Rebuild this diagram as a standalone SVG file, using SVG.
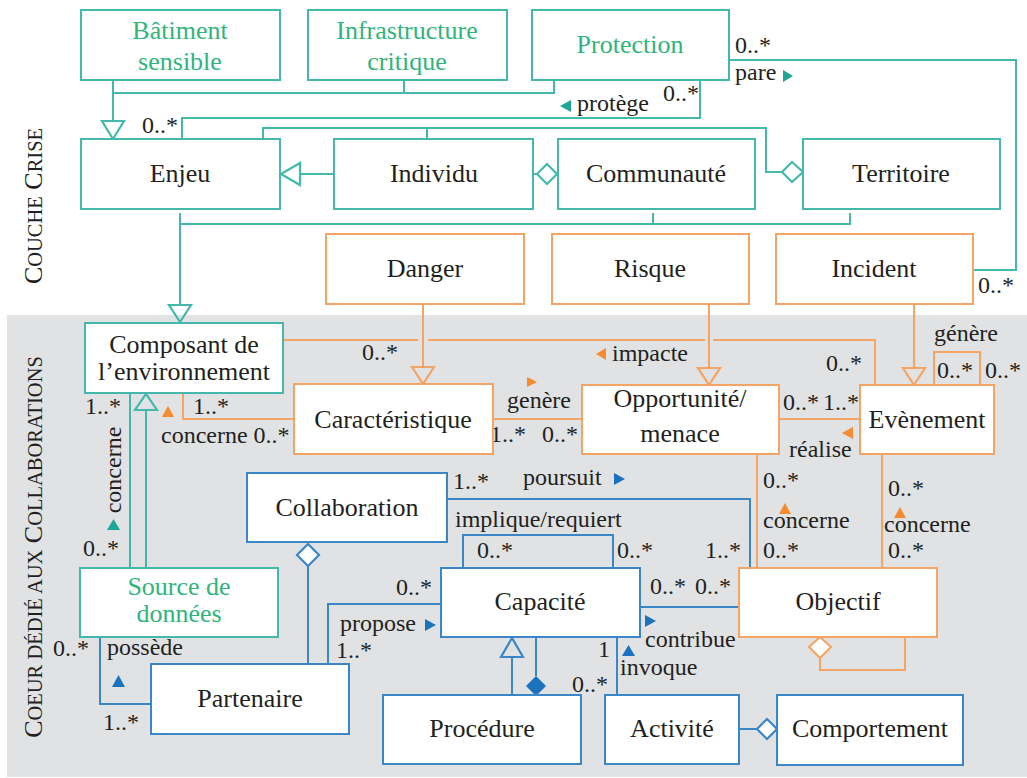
<svg xmlns="http://www.w3.org/2000/svg" width="1027" height="778" viewBox="0 0 1027 778">
<style>
.bg{fill:#e1e2e4}
.box{fill:#fff;stroke-width:2}
.tl{stroke:#45b8ac}
.or{stroke:#f4a565}
.bl{stroke:#3a86c6}
.ln{fill:none;stroke-width:2}
.hol{fill:#fff;stroke-width:2.2}
.hol2{fill:none;stroke-width:2.2}
.ft{fill:#1fa595}
.fo{fill:#f58a30}
.fb{fill:#1a73bc}
text{font-family:"Liberation Serif","Times New Roman",serif;fill:#231f20}
.nt{font-size:26px;text-anchor:middle}
.gr{fill:#2fb47c}
.lb{font-size:24px}
.side{font-size:26px;text-anchor:middle}
</style>
<rect class="bg" x="7" y="315" width="1020" height="462"/>
<text class="side" transform="translate(42,206) rotate(-90)">C<tspan font-size="20.5">OUCHE</tspan> C<tspan font-size="20.5">RISE</tspan></text>
<text class="side" transform="translate(42,547) rotate(-90)">C<tspan font-size="20.5">OEUR DÉDIÉ AUX</tspan> C<tspan font-size="20.5">OLLABORATIONS</tspan></text>

<g id="connectors">
  <!-- teal -->
  <path class="ln tl" d="M113,80 V121 M113,93 H554 V80 M404,80 V93"/>
  <polygon class="hol2 tl" points="102,121 124,121 113,139"/>
  <path class="ln tl" d="M700,80 V118 H182 V139"/>
  <path class="ln tl" d="M729,60 H1016 V270 H973"/>
  <path class="ln tl" d="M334,174 H300"/>
  <polygon class="hol2 tl" points="300,163 300,185 281,174"/>
  <path class="ln tl" d="M533,174 H537"/>
  <polygon class="hol tl" points="537,174 547,164 557,174 547,184"/>
  <path class="ln tl" d="M263,139 V128 H766 V172 H782 M427,128 V139"/>
  <polygon class="hol tl" points="782,172 792,162 803,172 792,182"/>
  <path class="ln tl" d="M180,213 V305 M180,224 H850 V213 M653,213 V224"/>
  <polygon class="hol2 tl" points="169,305 191,305 180,322"/>
  <path class="ln tl" d="M130,394 V568"/>
  <path class="ln tl" d="M146,568 V410"/>
  <polygon class="hol2 tl" points="135,410 157,410 146,394"/>
  <!-- orange -->
  <path class="ln or" d="M423,304 V367"/>
  <polygon class="hol2 or" points="412,367 434,367 423,384"/>
  <path class="ln or" d="M709,304 V368"/>
  <polygon class="hol2 or" points="698,368 720,368 709,385"/>
  <path class="ln or" d="M914,304 V368"/>
  <polygon class="hol2 or" points="903,368 925,368 914,385"/>
  <path class="ln or" d="M283,340 H418 M428,340 H705 M713,340 H875 V385"/>
  <path class="ln or" d="M183,393 V419 H294"/>
  <path class="ln or" d="M493,419 H582"/>
  <path class="ln or" d="M779,419 H860"/>
  <path class="ln or" d="M934,385 V352 H980 V385"/>
  <path class="ln or" d="M757,454 V568"/>
  <path class="ln or" d="M882,454 V568"/>
  <polygon class="hol or" points="820,637 831,647 820,658 809,647"/>
  <path class="ln or" d="M820,658 V670 H905 V637"/>
  <!-- blue -->
  <polygon class="hol bl" points="308,544 319,555 308,566 297,555"/>
  <path class="ln bl" d="M308,566 V664"/>
  <path class="ln bl" d="M328,664 V604 H441"/>
  <path class="ln bl" d="M100,637 V704 H151"/>
  <path class="ln bl" d="M447,499 H750 V568"/>
  <path class="ln bl" d="M463,568 V535 H613 V568"/>
  <path class="ln bl" d="M640,607 H739"/>
  <path class="ln bl" d="M512,695 V657"/>
  <polygon class="hol2 bl" points="501,657 523,657 512,638"/>
  <path class="ln bl" d="M536,637 V676"/>
  <polygon class="fb" points="536,676 546,686 536,696 526,686"/>
  <path class="ln bl" d="M617,637 V695"/>
  <path class="ln bl" d="M739,729 H757"/>
  <polygon class="hol bl" points="757,729 767,719 777,729 767,739"/>

  <!-- labels -->
  <text class="lb" x="735" y="53">0..*</text>
  <text class="lb" x="735" y="80">pare</text>
  <polygon class="ft" points="783,70 793,76 783,82"/>
  <text class="lb" x="663" y="101">0..*</text>
  <polygon class="ft" points="571,100 571,112 560,106"/>
  <text class="lb" x="577" y="111">protège</text>
  <text class="lb" x="142" y="133">0..*</text>
  <text class="lb" x="978" y="293">0..*</text>

  <text class="lb" x="362" y="360">0..*</text>
  <polygon class="fo" points="606,348 606,360 596,354"/>
  <text class="lb" x="612" y="361">impacte</text>
  <text class="lb" x="826" y="371">0..*</text>
  <text class="lb" x="934" y="341">génère</text>
  <text class="lb" x="937" y="378">0..*</text>
  <text class="lb" x="985" y="378">0..*</text>

  <text class="lb" x="85" y="414">1..*</text>
  <text class="lb" x="193" y="414">1..*</text>
  <polygon class="fo" points="162,417 174,417 168,406"/>
  <text class="lb" x="161" y="443">concerne 0..*</text>
  <polygon class="fo" points="527,377 537,382 527,387"/>
  <text class="lb" x="507" y="408">genère</text>
  <text class="lb" x="490" y="442">1..*</text>
  <text class="lb" x="542" y="442">0..*</text>
  <text class="lb" x="783" y="410">0..*</text>
  <text class="lb" x="823" y="410">1..*</text>
  <polygon class="fo" points="853,427 853,439 842,433"/>
  <text class="lb" x="789" y="457">réalise</text>

  <text class="lb" x="763" y="488">0..*</text>
  <polygon class="fo" points="779,514 791,514 785,503"/>
  <text class="lb" x="763" y="528">concerne</text>
  <text class="lb" x="763" y="558">0..*</text>
  <text class="lb" x="888" y="496">0..*</text>
  <polygon class="fo" points="894,518 906,518 900,507"/>
  <text class="lb" x="884" y="532">concerne</text>
  <text class="lb" x="888" y="558">0..*</text>

  <text class="lb" transform="translate(121,470) rotate(-90)" text-anchor="middle">concerne</text>
  <polygon class="ft" points="107,530 120,530 113.5,519"/>
  <text class="lb" x="83" y="556">0..*</text>

  <text class="lb" x="453" y="489">1..*</text>
  <text class="lb" x="523" y="485">poursuit</text>
  <polygon class="fb" points="614,473 625,479 614,485"/>
  <text class="lb" x="455" y="527">implique/requiert</text>
  <text class="lb" x="477" y="558">0..*</text>
  <text class="lb" x="617" y="558">0..*</text>
  <text class="lb" x="705" y="558">1..*</text>
  <text class="lb" x="396" y="595">0..*</text>
  <text class="lb" x="340" y="631">propose</text>
  <polygon class="fb" points="425,619 436,625 425,631"/>
  <text class="lb" x="336" y="658">1..*</text>
  <text class="lb" x="650" y="594">0..*</text>
  <text class="lb" x="695" y="594">0..*</text>
  <polygon class="fb" points="645,615 656,621 645,627"/>
  <text class="lb" x="645" y="647">contribue</text>
  <text class="lb" x="598" y="657">1</text>
  <text class="lb" x="572" y="692">0..*</text>
  <polygon class="fb" points="622,656 635,656 628.5,645"/>
  <text class="lb" x="620" y="675">invoque</text>

  <text class="lb" x="53" y="656">0..*</text>
  <text class="lb" x="107" y="655">possède</text>
  <polygon class="fb" points="112,687 125,687 118.5,675"/>
  <text class="lb" x="103" y="730">1..*</text>
</g>

<g id="batiment"><rect class="box tl" x="81" y="10" width="199" height="70"/><text class="nt gr" x="180" y="39">Bâtiment</text><text class="nt gr" x="180" y="70">sensible</text></g>
<g id="infrastructure"><rect class="box tl" x="308" y="10" width="199" height="70"/><text class="nt gr" x="407" y="39">Infrastructure</text><text class="nt gr" x="407" y="70">critique</text></g>
<g id="protection"><rect class="box tl" x="532" y="10" width="197" height="70"/><text class="nt gr" x="630" y="53">Protection</text></g>
<g id="enjeu"><rect class="box tl" x="81" y="139" width="199" height="70"/><text class="nt" x="180" y="182">Enjeu</text></g>
<g id="individu"><rect class="box tl" x="334" y="139" width="199" height="70"/><text class="nt" x="434" y="182">Individu</text></g>
<g id="communaute"><rect class="box tl" x="558" y="139" width="197" height="70"/><text class="nt" x="656" y="182">Communauté</text></g>
<g id="territoire"><rect class="box tl" x="803" y="139" width="197" height="70"/><text class="nt" x="901" y="182">Territoire</text></g>
<g id="danger"><rect class="box or" x="326" y="234" width="198" height="70"/><text class="nt" x="425" y="277">Danger</text></g>
<g id="risque"><rect class="box or" x="552" y="234" width="197" height="70"/><text class="nt" x="650" y="277">Risque</text></g>
<g id="incident"><rect class="box or" x="776" y="234" width="197" height="70"/><text class="nt" x="874" y="277">Incident</text></g>
<g id="composant"><rect class="box tl" x="85" y="323" width="198" height="70"/><text class="nt" x="184" y="353">Composant de</text><text class="nt" x="184" y="380">l’environnement</text></g>
<g id="caracteristique"><rect class="box or" x="294" y="384" width="199" height="70"/><text class="nt" x="393" y="428">Caractéristique</text></g>
<g id="opportunite"><rect class="box or" x="582" y="385" width="197" height="69"/><text class="nt" x="680" y="407">Opportunité/</text><text class="nt" x="680" y="442">menace</text></g>
<g id="evenement"><rect class="box or" x="860" y="385" width="134" height="69"/><text class="nt" x="927" y="428">Evènement</text></g>
<g id="collaboration"><rect class="box bl" x="247" y="473" width="200" height="69"/><text class="nt" x="347" y="516">Collaboration</text></g>
<g id="capacite"><rect class="box bl" x="441" y="568" width="199" height="69"/><text class="nt" x="540" y="610">Capacité</text></g>
<g id="objectif"><rect class="box or" x="739" y="568" width="198" height="69"/><text class="nt" x="838" y="610">Objectif</text></g>
<g id="source"><rect class="box tl" x="80" y="568" width="198" height="69"/><text class="nt gr" x="179" y="595">Source de</text><text class="nt gr" x="179" y="622">données</text></g>
<g id="partenaire"><rect class="box bl" x="151" y="664" width="198" height="70"/><text class="nt" x="250" y="707">Partenaire</text></g>
<g id="procedure"><rect class="box bl" x="383" y="695" width="198" height="69"/><text class="nt" x="482" y="737">Procédure</text></g>
<g id="activite"><rect class="box bl" x="605" y="695" width="134" height="69"/><text class="nt" x="672" y="737">Activité</text></g>
<g id="comportement"><rect class="box bl" x="777" y="695" width="186" height="70"/><text class="nt" x="870" y="737">Comportement</text></g>
</svg>
